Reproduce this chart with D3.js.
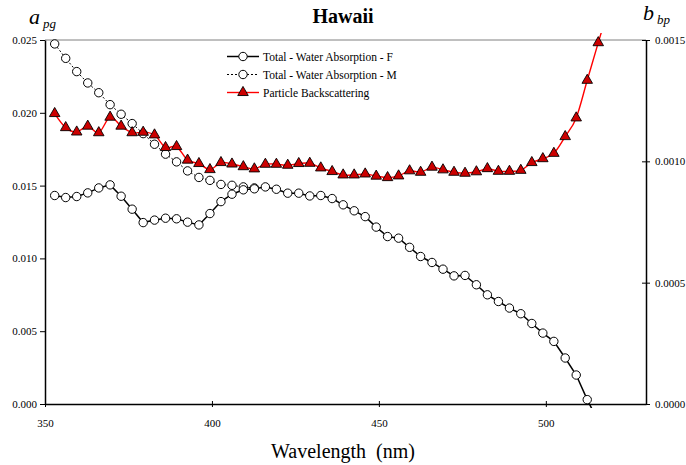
<!DOCTYPE html>
<html>
<head>
<meta charset="utf-8">
<script src="https://cdn.jsdelivr.net/npm/d3@7"></script>
<style>
  html, body { margin: 0; padding: 0; background: #fff; }
  svg { display: block; }
  svg text { font-family: "Liberation Serif", "Times New Roman", Times, serif; }
</style>
</head>
<body>
<svg id="chart" width="686" height="465"></svg>
<script>
// ---- data ----
const wavelengths = [352.9, 356.2, 359.5, 362.8, 366.1, 369.5, 372.8, 376.1, 379.4, 382.8,
  386.1, 389.4, 392.7, 396.1, 399.4, 402.7, 406.0, 409.4, 412.7, 416.0,
  419.3, 422.7, 426.0, 429.3, 432.6, 436.0, 439.3, 442.6, 445.9, 449.2,
  452.6, 455.9, 459.2, 462.5, 465.9, 469.2, 472.5, 475.8, 479.2, 482.5,
  485.8, 489.1, 492.5, 495.8, 499.1, 502.4, 505.8, 509.1, 512.4, 515.7, 519.0];

// Total - Water Absorption - F (left axis)
const absorptionF = [0.01432, 0.01418, 0.01425, 0.01450, 0.01484, 0.01505, 0.01427, 0.01338, 0.01246, 0.01263,
  0.01276, 0.01272, 0.01249, 0.01230, 0.01308, 0.01390, 0.01441, 0.01471, 0.01478, 0.01491,
  0.01475, 0.01448, 0.01448, 0.01429, 0.01432, 0.01411, 0.01368, 0.01327, 0.01287, 0.01215,
  0.01150, 0.01139, 0.01076, 0.01013, 0.00972, 0.00926, 0.00880, 0.00883, 0.00819, 0.00750,
  0.00704, 0.00659, 0.00620, 0.00553, 0.00487, 0.00430, 0.00316, 0.00199, 0.00030, -0.00120];

// Total - Water Absorption - M (left axis)
const absorptionM = [0.02473, 0.02374, 0.02283, 0.02205, 0.02138, 0.02056, 0.01990, 0.01926, 0.01857, 0.01784,
  0.01716, 0.01663, 0.01601, 0.01556, 0.01536, 0.01508, 0.01502, 0.01491, 0.01484];

// Particle Backscattering (right axis)
const backscatter = [0.001197, 0.001139, 0.001121, 0.001145, 0.001118, 0.001182, 0.001145, 0.001118, 0.001120, 0.001109,
  0.001057, 0.001061, 0.001005, 0.000991, 0.000966, 0.000995, 0.000989, 0.000978, 0.000969, 0.000988,
  0.000988, 0.000984, 0.000991, 0.000992, 0.000973, 0.000958, 0.000944, 0.000944, 0.000948, 0.000939,
  0.000933, 0.000940, 0.000961, 0.000955, 0.000976, 0.000965, 0.000955, 0.000951, 0.000957, 0.000970,
  0.000959, 0.000959, 0.000963, 0.000995, 0.001011, 0.001033, 0.001102, 0.001179, 0.001334, 0.001489, 0.001640];

const xTicks = [350, 400, 450, 500];
const yLeftTicks = [0, 0.005, 0.010, 0.015, 0.020, 0.025];
const yRightTicks = [0, 0.0005, 0.0010, 0.0015];
const legendLabels = ["Total - Water Absorption - F", "Total - Water Absorption - M", "Particle Backscattering"];

// ---- layout ----
const FONT = '"Liberation Serif", "Times New Roman", Times, serif';
const svg = d3.select("#chart");
const L = 45, R = 646, T = 40, B = 404;

const x = d3.scaleLinear().domain([350, 530]).range([L, R]);
const yL = d3.scaleLinear().domain([0, 0.025]).range([B, T]);
const yR = d3.scaleLinear().domain([0, 0.0015]).range([B, T]);

svg.append("defs").append("clipPath").attr("id", "clip")
  .append("rect").attr("x", L).attr("y", T - 7).attr("width", R - L).attr("height", B - T + 11);

// frame: top gray line
svg.append("line").attr("x1", L).attr("x2", R).attr("y1", T).attr("y2", T)
  .attr("stroke", "#808080").attr("stroke-width", 1);

// left axis
const axL = svg.append("g").attr("transform", `translate(${L},0)`)
  .call(d3.axisLeft(yL).tickValues(yLeftTicks).tickFormat(d3.format(".3f")).tickSizeInner(5).tickSizeOuter(0).tickPadding(3));
// right axis
const axR = svg.append("g").attr("transform", `translate(${R},0)`)
  .call(d3.axisRight(yR).tickValues(yRightTicks).tickFormat(d3.format(".4f")).tickSizeInner(4).tickSizeOuter(0).tickPadding(5));
axR.selectAll(".tick line").attr("x1", -4);
// bottom axis
const axB = svg.append("g").attr("transform", `translate(0,${B})`)
  .call(d3.axisBottom(x).tickValues(xTicks).tickFormat(d3.format("d")).tickSizeInner(3).tickSizeOuter(0).tickPadding(12));
axB.selectAll(".tick line").attr("y1", -3);

[axL, axR, axB].forEach(a => {
  a.attr("font-family", FONT);
  a.select(".domain").attr("stroke", "#000").attr("stroke-width", 1.5);
  a.selectAll(".tick line").attr("stroke", "#000");
  a.selectAll("text").attr("font-size", 11).attr("fill", "#000");
});

// ---- series ----
const plot = svg.append("g").attr("clip-path", "url(#clip)");

const inDomL = v => v >= 0 && v <= 0.025;
const inDomR = v => v >= 0 && v <= 0.0015;

// Particle backscattering (smoothed red line)
const bbData = backscatter.map((v, i) => [wavelengths[i], v]);
plot.append("path")
  .attr("d", d3.line().x(d => x(d[0])).y(d => yR(d[1])).curve(d3.curveCatmullRom.alpha(0))(bbData))
  .attr("fill", "none").attr("stroke", "#ff0000").attr("stroke-width", 1.4);

// M dotted line
const mData = absorptionM.map((v, i) => [wavelengths[i], v]);
plot.append("path")
  .attr("d", d3.line().x(d => x(d[0])).y(d => yL(d[1]))(mData))
  .attr("fill", "none").attr("stroke", "#000").attr("stroke-width", 1).attr("stroke-dasharray", "2,2");

// F solid line
const fData = absorptionF.map((v, i) => [wavelengths[i], v]);
plot.append("path")
  .attr("d", d3.line().x(d => x(d[0])).y(d => yL(d[1]))(fData))
  .attr("fill", "none").attr("stroke", "#000").attr("stroke-width", 1.5);

const tri = d3.symbol().type(d3.symbolTriangle).size(48);

// markers
svg.append("g").selectAll("circle.m").data(mData.filter(d => inDomL(d[1]))).join("circle")
  .attr("cx", d => x(d[0])).attr("cy", d => yL(d[1])).attr("r", 4.2)
  .attr("fill", "#fff").attr("stroke", "#000").attr("stroke-width", 1);

svg.append("g").selectAll("circle.f").data(fData.filter(d => inDomL(d[1]))).join("circle")
  .attr("cx", d => x(d[0])).attr("cy", d => yL(d[1])).attr("r", 4.2)
  .attr("fill", "#fff").attr("stroke", "#000").attr("stroke-width", 1);

svg.append("g").selectAll("path").data(bbData.filter(d => inDomR(d[1]))).join("path")
  .attr("d", tri)
  .attr("transform", d => `translate(${x(d[0])},${yR(d[1])})`)
  .attr("fill", "#cc0000").attr("stroke", "#000").attr("stroke-width", 0.9);

// ---- legend ----
const lg = svg.append("g");
const rows = [56.5, 74.5, 92.5];
lg.append("line").attr("x1", 227).attr("x2", 259).attr("y1", rows[0]).attr("y2", rows[0]).attr("stroke", "#000").attr("stroke-width", 1.5);
lg.append("circle").attr("cx", 243).attr("cy", rows[0]).attr("r", 4.2).attr("fill", "#fff").attr("stroke", "#000");
lg.append("line").attr("x1", 227).attr("x2", 259).attr("y1", rows[1]).attr("y2", rows[1]).attr("stroke", "#000").attr("stroke-width", 1).attr("stroke-dasharray", "2,2");
lg.append("circle").attr("cx", 243).attr("cy", rows[1]).attr("r", 4.2).attr("fill", "#fff").attr("stroke", "#000");
lg.append("line").attr("x1", 227).attr("x2", 259).attr("y1", rows[2]).attr("y2", rows[2]).attr("stroke", "#ff0000").attr("stroke-width", 1.4);
lg.append("path").attr("d", tri).attr("transform", `translate(243,${rows[2]})`).attr("fill", "#cc0000").attr("stroke", "#000").attr("stroke-width", 0.9);

lg.selectAll("text").data(legendLabels).join("text")
  .attr("x", 263).attr("y", (d, i) => rows[i] + 4)
  .attr("font-family", FONT).attr("font-size", 11.5).attr("fill", "#000")
  .text(d => d);

// ---- titles ----
svg.append("text").attr("x", 343).attr("y", 23).attr("text-anchor", "middle")
  .attr("font-family", FONT).attr("font-size", 20).attr("font-weight", "bold").text("Hawaii");

svg.append("text").attr("x", 343).attr("y", 458).attr("text-anchor", "middle")
  .attr("font-family", FONT).attr("font-size", 20).style("white-space", "pre").text("Wavelength  (nm)");

const aLab = svg.append("text").attr("x", 29).attr("y", 24).attr("font-family", FONT).attr("font-style", "italic");
aLab.append("tspan").attr("font-size", 22).text("a");
aLab.append("tspan").attr("font-size", 13).attr("dx", 3).attr("dy", 4).text("pg");

const bLab = svg.append("text").attr("x", 643).attr("y", 20).attr("font-family", FONT).attr("font-style", "italic");
bLab.append("tspan").attr("font-size", 22).text("b");
bLab.append("tspan").attr("font-size", 13).attr("dx", 3).attr("dy", 4).text("bp");
</script>
</body>
</html>
